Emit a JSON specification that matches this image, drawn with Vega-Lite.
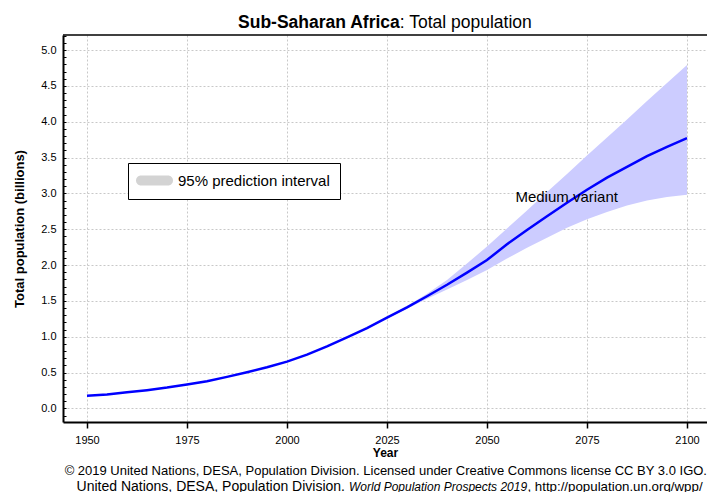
{
  "$schema": "https://vega.github.io/schema/vega-lite/v6.json",
  "autosize": {"type": "none"},
  "padding": {"left": 63, "top": 35, "right": 0, "bottom": 70},
  "width": 644,
  "height": 387,
  "background": "white",
  "config": {
    "view": {"stroke": null},
    "font": "Liberation Sans",
    "text": {"font": "Liberation Sans", "color": "black"}
  },
  "datasets": {
    "pop": [
      {"year": 1950, "pop": 0.176}, {"year": 1955, "pop": 0.195}, {"year": 1960, "pop": 0.224},
      {"year": 1965, "pop": 0.254}, {"year": 1970, "pop": 0.29}, {"year": 1975, "pop": 0.333},
      {"year": 1980, "pop": 0.378}, {"year": 1985, "pop": 0.44}, {"year": 1990, "pop": 0.505},
      {"year": 1995, "pop": 0.575}, {"year": 2000, "pop": 0.652}, {"year": 2005, "pop": 0.75},
      {"year": 2010, "pop": 0.865}, {"year": 2015, "pop": 0.99}, {"year": 2020, "pop": 1.12},
      {"year": 2025, "pop": 1.265}, {"year": 2030, "pop": 1.41}, {"year": 2035, "pop": 1.565},
      {"year": 2040, "pop": 1.725}, {"year": 2045, "pop": 1.895}, {"year": 2050, "pop": 2.07},
      {"year": 2055, "pop": 2.29}, {"year": 2060, "pop": 2.49}, {"year": 2065, "pop": 2.68},
      {"year": 2070, "pop": 2.87}, {"year": 2075, "pop": 3.05}, {"year": 2080, "pop": 3.22},
      {"year": 2085, "pop": 3.37}, {"year": 2090, "pop": 3.52}, {"year": 2095, "pop": 3.65},
      {"year": 2100, "pop": 3.77}
    ],
    "band": [
      {"year": 2020, "lo": 1.12, "hi": 1.12}, {"year": 2025, "lo": 1.255, "hi": 1.275},
      {"year": 2030, "lo": 1.39, "hi": 1.43}, {"year": 2035, "lo": 1.53, "hi": 1.6},
      {"year": 2040, "lo": 1.66, "hi": 1.79}, {"year": 2045, "lo": 1.79, "hi": 2.02},
      {"year": 2050, "lo": 1.93, "hi": 2.26}, {"year": 2055, "lo": 2.09, "hi": 2.51},
      {"year": 2060, "lo": 2.24, "hi": 2.76}, {"year": 2065, "lo": 2.38, "hi": 3.02},
      {"year": 2070, "lo": 2.52, "hi": 3.27}, {"year": 2075, "lo": 2.64, "hi": 3.53},
      {"year": 2080, "lo": 2.74, "hi": 3.78}, {"year": 2085, "lo": 2.83, "hi": 4.03},
      {"year": 2090, "lo": 2.9, "hi": 4.29}, {"year": 2095, "lo": 2.95, "hi": 4.54},
      {"year": 2100, "lo": 2.98, "hi": 4.79}
    ],
    "one": [{}]
  },
  "layer": [
    {
      "data": {"name": "band"},
      "mark": {"type": "area", "fill": "#ccccff", "opacity": 1},
      "encoding": {
        "x": {
          "field": "year", "type": "quantitative",
          "scale": {"domain": [1944, 2105], "nice": false, "zero": false},
          "axis": {
            "values": [1950, 1975, 2000, 2025, 2050, 2075, 2100],
            "tickCount": 100,
            "format": "d",
            "title": "Year", "titleFontWeight": "bold", "titleFontSize": 12, "titleColor": "black",
            "titlePadding": 2,
            "labelFontSize": 11, "labelColor": "black", "labelPadding": 6,
            "tickSize": 6, "tickColor": "black", "tickWidth": 1.5,
            "domain": true, "domainColor": "black", "domainWidth": 2,
            "grid": true, "gridColor": "#c8c8c8", "gridDash": [2, 2], "gridWidth": 1
          }
        },
        "y": {
          "field": "lo", "type": "quantitative",
          "scale": {"domain": [-0.19, 5.21], "nice": false, "zero": false},
          "axis": {
            "values": [-0.1, 0, 0.1, 0.2, 0.3, 0.4, 0.5, 0.6, 0.7, 0.8, 0.9, 1, 1.1, 1.2, 1.3, 1.4, 1.5, 1.6, 1.7, 1.8, 1.9, 2, 2.1, 2.2, 2.3, 2.4, 2.5, 2.6, 2.7, 2.8, 2.9, 3, 3.1, 3.2, 3.3, 3.4, 3.5, 3.6, 3.7, 3.8, 3.9, 4, 4.1, 4.2, 4.3, 4.4, 4.5, 4.6, 4.7, 4.8, 4.9, 5, 5.1, 5.2],
            "tickCount": 200,
            "labelOverlap": false,
            "labelExpr": "abs(datum.value * 2 - round(datum.value * 2)) < 0.001 ? format(datum.value, '.1f') : ''",
            "title": "Total population (billions)", "titleFontWeight": "bold", "titleFontSize": 13,
            "titleColor": "black", "titlePadding": 14,
            "labelFontSize": 11, "labelColor": "black", "labelPadding": 10,
            "ticks": true, "tickSize": -3, "tickColor": "black", "tickWidth": 1,
            "domain": true, "domainColor": "black", "domainWidth": 2,
            "grid": true, "gridColor": "#c8c8c8", "gridDash": [2, 2], "gridWidth": 1,
            "gridOpacity": {"condition": {"test": "abs(datum.value * 2 - round(datum.value * 2)) < 0.001", "value": 1}, "value": 0}
          }
        },
        "y2": {"field": "hi"}
      }
    },
    {
      "data": {"name": "one"},
      "mark": {"type": "rule", "color": "black", "strokeWidth": 1.5},
      "encoding": {"y": {"datum": 5.21, "type": "quantitative"}}
    },
    {
      "data": {"name": "one"},
      "mark": {"type": "point", "filled": true, "opacity": 0},
      "encoding": {
        "x": {"datum": 2000, "type": "quantitative"},
        "y": {"datum": 1, "type": "quantitative"},
        "fill": {
          "datum": "95% prediction interval", "type": "nominal",
          "scale": {"range": ["#d3d3d3"]},
          "legend": {
            "title": null,
            "orient": "none", "legendX": 65, "legendY": 128,
            "strokeColor": "black", "fillColor": "white", "padding": 10,
            "labelFontSize": 15, "labelColor": "black", "labelOffset": 16,
            "symbolType": "M-2.7,-1 L2.7,-1 A1,1 0 0 1 2.7,1 L-2.7,1 A1,1 0 0 1 -2.7,-1 Z",
            "symbolSize": 100,
            "symbolOffset": 9,
            "symbolOpacity": 1,
            "symbolStrokeWidth": 0
          }
        }
      }
    },
    {
      "data": {"name": "pop"},
      "mark": {"type": "line", "color": "#0000ff", "strokeWidth": 2.5},
      "encoding": {
        "x": {"field": "year", "type": "quantitative"},
        "y": {"field": "pop", "type": "quantitative"}
      }
    },
    {
      "data": {"name": "one"},
      "mark": {"type": "text", "align": "left", "baseline": "alphabetic", "fontSize": 15},
      "encoding": {
        "x": {"datum": 2057.1, "type": "quantitative"},
        "y": {"datum": 2.88, "type": "quantitative"},
        "text": {"value": "Medium variant"}
      }
    },
    {
      "data": {"name": "one"},
      "mark": {"type": "text", "align": "right", "baseline": "alphabetic", "fontSize": 17.5, "fontWeight": "bold"},
      "encoding": {
        "x": {"datum": 2028.2, "type": "quantitative"},
        "y": {"datum": 5.306, "type": "quantitative"},
        "text": {"value": "Sub-Saharan Africa"}
      }
    },
    {
      "data": {"name": "one"},
      "mark": {"type": "text", "align": "left", "baseline": "alphabetic", "fontSize": 17.5},
      "encoding": {
        "x": {"datum": 2028.2, "type": "quantitative"},
        "y": {"datum": 5.306, "type": "quantitative"},
        "text": {"value": ": Total population"}
      }
    },
    {
      "data": {"name": "one"},
      "mark": {"type": "text", "align": "center", "baseline": "alphabetic", "fontSize": 13},
      "encoding": {
        "x": {"datum": 2024.7, "type": "quantitative"},
        "y": {"datum": -0.931, "type": "quantitative"},
        "text": {"value": "© 2019 United Nations, DESA, Population Division. Licensed under Creative Commons license CC BY 3.0 IGO."}
      }
    },
    {
      "data": {"name": "one"},
      "mark": {"type": "text", "align": "right", "baseline": "alphabetic", "fontSize": 14},
      "encoding": {
        "x": {"datum": 2014.5, "type": "quantitative"},
        "y": {"datum": -1.152, "type": "quantitative"},
        "text": {"value": "United Nations, DESA, Population Division."}
      }
    },
    {
      "data": {"name": "one"},
      "mark": {"type": "text", "align": "left", "baseline": "alphabetic", "fontSize": 12, "fontStyle": "italic"},
      "encoding": {
        "x": {"datum": 2015.5, "type": "quantitative"},
        "y": {"datum": -1.152, "type": "quantitative"},
        "text": {"value": "World Population Prospects 2019"}
      }
    },
    {
      "data": {"name": "one"},
      "mark": {"type": "text", "align": "left", "baseline": "alphabetic", "fontSize": 13.3},
      "encoding": {
        "x": {"datum": 2060.1, "type": "quantitative"},
        "y": {"datum": -1.152, "type": "quantitative"},
        "text": {"value": ", http://population.un.org/wpp/"}
      }
    }
  ]
}
